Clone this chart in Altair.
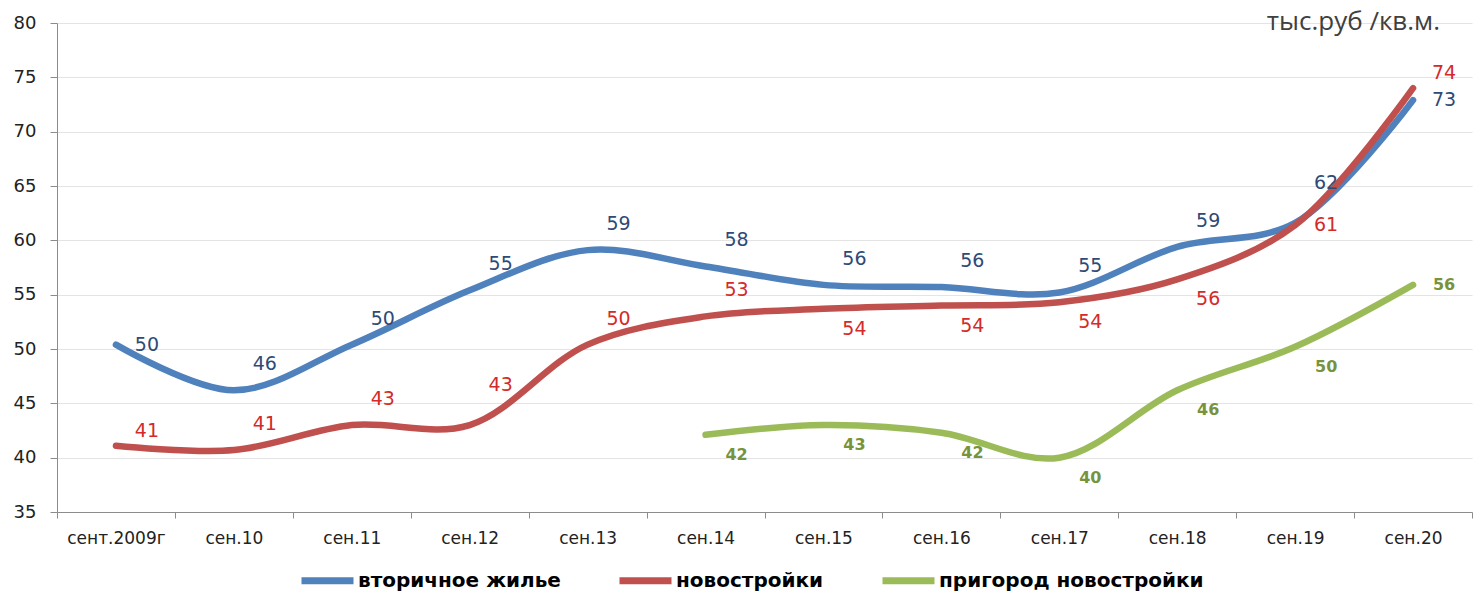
import altair as alt
import pandas as pd

# ---- data ----
periods = ["сент.2009г", "сен.10", "сен.11", "сен.12", "сен.13", "сен.14",
           "сен.15", "сен.16", "сен.17", "сен.18", "сен.19", "сен.20"]
series_names = ["вторичное жилье", "новостройки", "пригород новостройки"]

secondary = [50.4, 46.2, 50.4, 55.4, 59.1, 57.6, 55.9, 55.7, 55.2, 59.4, 61.6, 72.9]
new_build = [41.1, 40.7, 43.0, 43.0, 50.4, 53.0, 53.7, 54.0, 54.3, 56.4, 61.4, 74.0]
suburb = [None, None, None, None, None, 42.1, 43.0, 42.3, 40.0, 46.2, 50.2, 55.9]

# where each value label sits relative to its point
secondary_place = ["mid", "above", "above", "above", "above", "above",
                   "above", "above", "above", "above", "high", "mid"]
new_build_place = ["up", "above", "above", "high", "above", "above",
                   "below", "below", "below", "below", "mid", "up"]
suburb_place = ["mid", "mid", "mid", "mid", "mid", "below",
                "below", "below", "below", "below", "below", "mid"]

unit_label = "тыс.руб /кв.м."
y_ticks = [35, 40, 45, 50, 55, 60, 65, 70, 75, 80]

line_colors = ["#4F81BD", "#C0504D", "#9BBB59"]
label_colors = ["#2E4A76", "#D42A2A", "#77933C"]

rows = []
for name, vals, places in zip(series_names,
                              [secondary, new_build, suburb],
                              [secondary_place, new_build_place, suburb_place]):
    for p, v, pl in zip(periods, vals, places):
        if v is not None:
            rows.append({"period": p, "series": name, "value": v, "place": pl})
df = pd.DataFrame(rows)

FONT = "DejaVu Sans"

x_enc = alt.X("period:N", sort=periods,
              scale=alt.Scale(type="band", paddingInner=0, paddingOuter=0),
              axis=alt.Axis(title=None, labelAngle=0, tickBand="extent",
                            grid=False, domainColor="#8c8c8c", tickColor="#8c8c8c",
                            tickSize=6, labelFontSize=17, labelColor="#222222",
                            labelFont=FONT, labelPadding=12))
y_enc = alt.Y("value:Q",
              scale=alt.Scale(domain=[35, 80], nice=False, zero=False),
              axis=alt.Axis(title=None, values=y_ticks, grid=True,
                            gridColor="#e4e4e4", domainColor="#8c8c8c",
                            tickColor="#8c8c8c", tickSize=7, labelFontSize=18,
                            labelColor="#222222", labelFont=FONT, labelPadding=14))

base = alt.Chart(df)

lines = base.mark_line(interpolate="catmull-rom", strokeWidth=6.5,
                       strokeCap="round").encode(
    x=x_enc, y=y_enc,
    color=alt.Color("series:N", sort=series_names,
                    scale=alt.Scale(domain=series_names, range=line_colors),
                    legend=alt.Legend(title=None, orient="none", legendX=241,
                                      legendY=528, direction="horizontal",
                                      symbolType="stroke", symbolSize=2704,
                                      symbolStrokeWidth=7, labelFont=FONT,
                                      labelFontSize=20, labelFontWeight="bold",
                                      labelColor="#000000", labelOffset=1,
                                      labelLimit=400, columnPadding=44)),
)

offsets = {"above": -26, "high": -40, "up": -15, "below": 20, "mid": 0}
text_layers = []
for name, col in zip(series_names, label_colors):
    bold = name == series_names[2]
    for pl, dy in offsets.items():
        t = base.transform_filter(
            (alt.datum.series == name) & (alt.datum.place == pl)
        ).mark_text(
            dx=31, dy=dy, color=col, font=FONT,
            fontSize=16 if bold else 19,
            fontWeight="bold" if bold else "normal",
        ).encode(x=alt.X("period:N", sort=periods),
                 y="value:Q",
                 text=alt.Text("value:Q", format=".0f"))
        text_layers.append(t)

unit = alt.Chart(pd.DataFrame({"t": [unit_label]})).mark_text(
    align="right", baseline="alphabetic", font="Open Sans", fontSize=26,
    color="#404040").encode(text="t:N", x=alt.value(1383), y=alt.value(7))

chart = alt.layer(lines, *text_layers, unit).properties(
    width=1415, height=489,
    autosize=alt.AutoSizeParams(type="none"),
    padding={"left": 49, "top": 15, "right": 2, "bottom": 79},
).configure_view(strokeWidth=0)

chart.save("out.html", embed_options={"renderer": "svg", "actions": False})
